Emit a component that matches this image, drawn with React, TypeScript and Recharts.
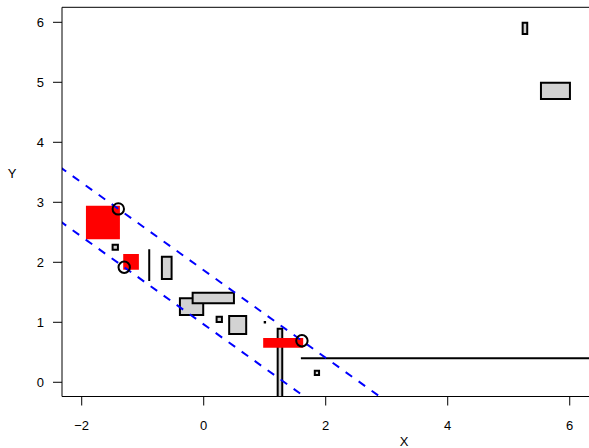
import React from 'react';
import { ComposedChart, XAxis, YAxis, ReferenceArea, ReferenceLine, Scatter } from 'recharts';

// Axis ranges and ticks
const xTicks = [-2, 0, 2, 4, 6];
const yTicks = [0, 1, 2, 3, 4, 5, 6];
const xDomain = [-2.323, 6.398];
const yDomain = [-0.237, 6.25];

// Gray rectangles (center x, center y, width, height)
const grayX = [5.266, 5.766, -1.45, -0.606, -0.199, 0.157, 0.255, 0.557, 1.856, 1.25, 1.003];
const grayY = [5.899, 4.858, 2.252, 1.908, 1.261, 1.405, 1.049, 0.955, 0.158, 0.0, 1.0];
const grayW = [0.075, 0.475, 0.087, 0.159, 0.382, 0.677, 0.087, 0.279, 0.07, 0.075, 0.006];
const grayH = [0.19, 0.272, 0.083, 0.372, 0.278, 0.177, 0.088, 0.3, 0.07, 1.786, 0.006];

// Red rectangles
const redX = [-1.652, -1.191, 1.303];
const redY = [2.662, 2.008, 0.658];
const redW = [0.557, 0.257, 0.656];
const redH = [0.557, 0.261, 0.161];

// Circles
const circleX = [-1.4, -1.303, 1.61];
const circleY = [2.89, 1.917, 0.693];

// Zero-width / zero-height rectangles drawn as lines
const vLineX = [-0.893];
const vLineY0 = [1.688];
const vLineY1 = [2.217];
const hLineY = [0.4];
const hLineX0 = [1.593];
const hLineX1 = [7.0];

// Dashed band lines
const bandSlope = -0.73;
const bandIntercepts = [1.868, 0.966];
const bandXRange = [-3, 4];

const FONT = '"Liberation Sans", Arial, sans-serif';
const fmt = (v: number) => String(v).replace('-', '\u2212');

const circleData = circleX.map((x, i) => ({ x, y: circleY[i] }));

const CircleShape = (props: any) => {
  const { cx, cy } = props;
  if (cx == null || cy == null) return null;
  return <circle cx={cx} cy={cy} r={5.7} fill="none" stroke="#000" strokeWidth={2} />;
};

export default function App() {
  return (
    <div style={{ position: 'absolute', left: 0, top: 0, width: 589, height: 448, overflow: 'hidden', background: '#fff' }}>
      <ComposedChart width={600} height={448} margin={{ top: 7.3, right: 6, bottom: 0, left: 0 }}>
        <XAxis
          type="number"
          dataKey="x"
          domain={xDomain}
          ticks={xTicks}
          allowDataOverflow
          height={51.5}
          tickSize={9}
          tickMargin={15}
          axisLine={{ stroke: '#000', strokeWidth: 1 }}
          tickLine={{ stroke: '#000', strokeWidth: 1 }}
          tick={{ fill: '#000', fontSize: 13, fontFamily: FONT }}
          tickFormatter={fmt}
          interval={0}
        />
        <YAxis
          type="number"
          dataKey="y"
          domain={yDomain}
          ticks={yTicks}
          allowDataOverflow
          width={62}
          tickSize={9}
          tickMargin={9}
          axisLine={{ stroke: '#000', strokeWidth: 1 }}
          tickLine={{ stroke: '#000', strokeWidth: 1 }}
          tick={{ fill: '#000', fontSize: 13, fontFamily: FONT }}
          tickFormatter={fmt}
          interval={0}
        />
        <ReferenceLine y={yDomain[1]} stroke="#000" strokeWidth={1} ifOverflow="visible" />
        {grayX.map((cx, i) => (
          <ReferenceArea
            key={'g' + i}
            x1={cx - grayW[i] / 2}
            x2={cx + grayW[i] / 2}
            y1={grayY[i] - grayH[i] / 2}
            y2={grayY[i] + grayH[i] / 2}
            fill="#d3d3d3"
            fillOpacity={1}
            stroke="#000"
            strokeWidth={2}
            ifOverflow="hidden"
          />
        ))}
        {redX.map((cx, i) => (
          <ReferenceArea
            key={'r' + i}
            x1={cx - redW[i] / 2}
            x2={cx + redW[i] / 2}
            y1={redY[i] - redH[i] / 2}
            y2={redY[i] + redH[i] / 2}
            fill="#ff0000"
            fillOpacity={1}
            stroke="none"
            ifOverflow="hidden"
          />
        ))}
        {vLineX.map((x, i) => (
          <ReferenceLine
            key={'v' + i}
            segment={[{ x, y: vLineY0[i] }, { x, y: vLineY1[i] }]}
            stroke="#000"
            strokeWidth={2}
            ifOverflow="hidden"
          />
        ))}
        {hLineY.map((y, i) => (
          <ReferenceLine
            key={'h' + i}
            segment={[{ x: hLineX0[i], y }, { x: hLineX1[i], y }]}
            stroke="#000"
            strokeWidth={2}
            ifOverflow="hidden"
          />
        ))}
        {bandIntercepts.map((b, i) => (
          <ReferenceLine
            key={'b' + i}
            segment={[
              { x: bandXRange[0], y: b + bandSlope * bandXRange[0] },
              { x: bandXRange[1], y: b + bandSlope * bandXRange[1] },
            ]}
            stroke="#0000ff"
            strokeWidth={2}
            strokeDasharray="8 8"
            ifOverflow="hidden"
          />
        ))}
        <Scatter data={circleData} dataKey="y" shape={CircleShape} isAnimationActive={false} />
      </ComposedChart>
      <span style={{ position: 'absolute', left: 404, top: 441, transform: 'translate(-50%, -50%)', fontFamily: FONT, fontSize: 13, lineHeight: 1 }}>X</span>
      <span style={{ position: 'absolute', left: 12, top: 173, transform: 'translate(-50%, -50%)', fontFamily: FONT, fontSize: 13, lineHeight: 1 }}>Y</span>
    </div>
  );
}
